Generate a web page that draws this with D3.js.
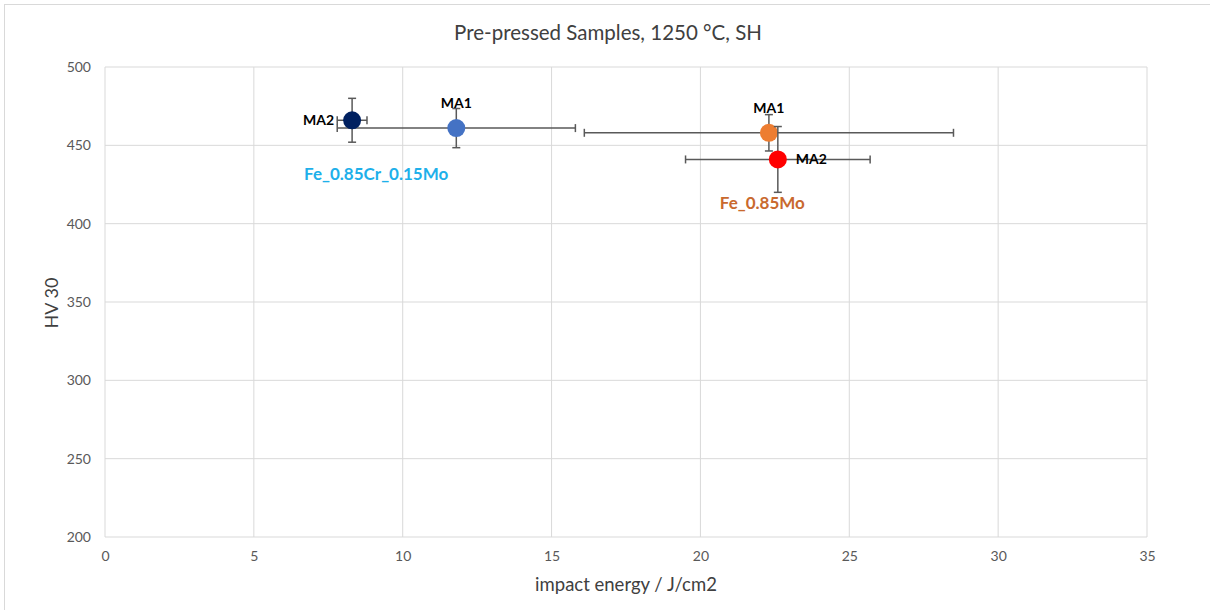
<!DOCTYPE html>
<html>
	<head>
		<meta charset="utf-8">
		<title>Pre-pressed Samples</title>
		<style>
			body, html
			{
				margin: 0px;
				background: #fff;
			}
			text
			{
				font-family: Lato, "Open Sans", sans-serif;
			}
		</style>
		<script src="https://cdn.jsdelivr.net/npm/d3@7/dist/d3.min.js"></script>
	</head>
	<body>
	<svg id="chart" width="1210" height="610"></svg>
	<script>
		// values
		var samples = ["MA1", "MA2", "MA1", "MA2"];
		var alloys = ["Fe_0.85Cr_0.15Mo", "Fe_0.85Cr_0.15Mo", "Fe_0.85Mo", "Fe_0.85Mo"];
		var impactEnergy = [11.8, 8.3, 22.3, 22.6];
		var impactErr = [4.0, 0.5, 6.2, 3.1];
		var hardness = [461, 466, 458, 441];
		var hardnessErr = [12.5, 14, 11.6, 21];
		var xTicks = [0, 5, 10, 15, 20, 25, 30, 35];
		var yTicks = [200, 250, 300, 350, 400, 450, 500];

		var markerColors = ["#4472c4", "#002060", "#ed7d31", "#ff0000"];
		var labelSide = ["above", "left", "above", "right"];
		var alloyColors = {"Fe_0.85Cr_0.15Mo": "#1eb0ea", "Fe_0.85Mo": "#c9692e"};

		var svg = d3.select("#chart");

		// chart frame
		svg.append("rect")
			.attr("x", 4.5).attr("y", 4.5)
			.attr("width", 1220).attr("height", 620)
			.attr("fill", "none").attr("stroke", "#d9d9d9");

		var x = d3.scaleLinear().domain([0, 35]).range([105, 1147]);
		var y = d3.scaleLinear().domain([200, 500]).range([537, 67]);

		// grid
		svg.selectAll(".vgrid").data(xTicks).enter().append("line")
			.attr("x1", function(d){ return x(d); }).attr("x2", function(d){ return x(d); })
			.attr("y1", y(200)).attr("y2", y(500))
			.attr("stroke", "#d9d9d9").attr("stroke-width", 1);
		svg.selectAll(".hgrid").data(yTicks).enter().append("line")
			.attr("x1", x(0)).attr("x2", x(35))
			.attr("y1", function(d){ return y(d); }).attr("y2", function(d){ return y(d); })
			.attr("stroke", "#d9d9d9").attr("stroke-width", 1);

		// axes (labels only, lines are the grid)
		var xAxis = svg.append("g")
			.attr("transform", "translate(0," + y(200) + ")")
			.call(d3.axisBottom(x).tickValues(xTicks).tickSize(0).tickPadding(14));
		var yAxis = svg.append("g")
			.attr("transform", "translate(" + x(0) + ",0)")
			.call(d3.axisLeft(y).tickValues(yTicks).tickSize(0).tickPadding(14));
		[xAxis, yAxis].forEach(function(g)
		{
			g.select(".domain").remove();
			g.selectAll("text")
				.attr("fill", "#595959")
				.style("font-family", "Lato, 'Open Sans', sans-serif")
				.style("font-size", "14px");
		});

		// titles
		svg.append("text")
			.attr("x", 608).attr("y", 40)
			.attr("text-anchor", "middle")
			.attr("fill", "#404040")
			.style("font-size", "20.5px")
			.text("Pre-pressed Samples, 1250 °C, SH");
		svg.append("text")
			.attr("x", 626).attr("y", 591)
			.attr("text-anchor", "middle")
			.attr("fill", "#404040")
			.style("font-size", "18.5px")
			.text("impact energy / J/cm2");
		svg.append("text")
			.attr("transform", "translate(58,303) rotate(-90)")
			.attr("text-anchor", "middle")
			.attr("fill", "#404040")
			.style("font-size", "18px")
			.text("HV 30");

		// points with error bars
		var idx = d3.range(samples.length);
		var cap = 4;
		idx.forEach(function(i)
		{
			var g = svg.append("g");
			var cx = x(impactEnergy[i]), cy = y(hardness[i]);
			var x0 = x(impactEnergy[i] - impactErr[i]), x1 = x(impactEnergy[i] + impactErr[i]);
			var y0 = y(hardness[i] - hardnessErr[i]), y1 = y(hardness[i] + hardnessErr[i]);
			var segs = [
				[x0, cy, x1, cy], [x0, cy - cap, x0, cy + cap], [x1, cy - cap, x1, cy + cap],
				[cx, y0, cx, y1], [cx - cap, y0, cx + cap, y0], [cx - cap, y1, cx + cap, y1]
			];
			g.selectAll("line").data(segs).enter().append("line")
				.attr("x1", function(d){ return d[0]; }).attr("y1", function(d){ return d[1]; })
				.attr("x2", function(d){ return d[2]; }).attr("y2", function(d){ return d[3]; })
				.attr("stroke", "#595959").attr("stroke-width", 1.5);
			g.append("circle")
				.attr("cx", cx).attr("cy", cy).attr("r", 9)
				.attr("fill", markerColors[i]);

			var t = g.append("text")
				.attr("fill", "#000")
				.style("font-size", "14px")
				.style("font-weight", "bold")
				.text(samples[i]);
			if(labelSide[i] == "above")
			{
				t.attr("x", cx).attr("y", cy - 20).attr("text-anchor", "middle");
			}
			else if(labelSide[i] == "left")
			{
				t.attr("x", cx - 18).attr("y", cy + 5).attr("text-anchor", "end");
			}
			else
			{
				t.attr("x", cx + 18).attr("y", cy + 5).attr("text-anchor", "start");
			}
		});

		// alloy names, placed under the lowest point of each group
		var alloyNames = ["Fe_0.85Cr_0.15Mo", "Fe_0.85Mo"];
		var alloyAnchor = [1, 3];
		var alloyOffset = [[-48, 60], [-58, 50]];
		alloyNames.forEach(function(name, k)
		{
			var i = alloyAnchor[k];
			svg.append("text")
				.attr("x", x(impactEnergy[i]) + alloyOffset[k][0])
				.attr("y", y(hardness[i]) + alloyOffset[k][1])
				.attr("fill", alloyColors[name])
				.style("font-size", "17px")
				.style("font-weight", "bold")
				.text(name);
		});
	</script>
	</body>
</html>
